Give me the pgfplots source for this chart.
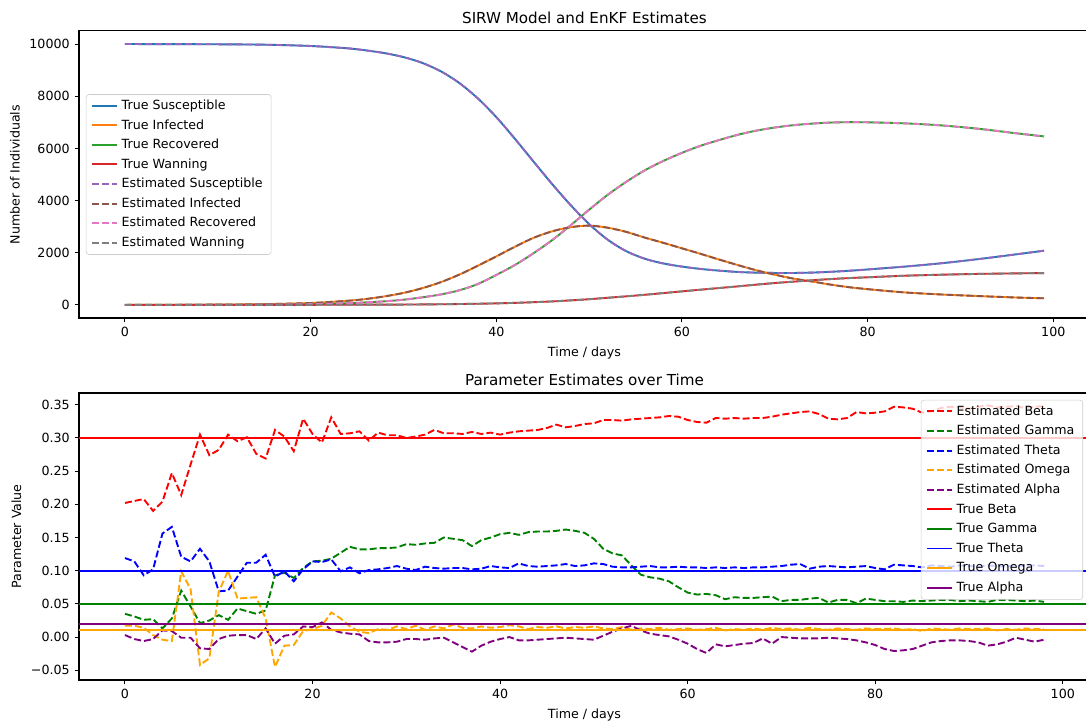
\documentclass[border=0pt]{standalone}
\usepackage{fontspec}
\setmainfont{DejaVu Sans}
\usepackage{pgfplots}
\usepackage{pgfplotstable}
\pgfplotsset{compat=1.18}
\definecolor{tabblue}{HTML}{1F77B4}
\definecolor{taborange}{HTML}{FF7F0E}
\definecolor{tabgreen}{HTML}{2CA02C}
\definecolor{tabred}{HTML}{D62728}
\definecolor{tabpurple}{HTML}{9467BD}
\definecolor{tabbrown}{HTML}{8C564B}
\definecolor{tabpink}{HTML}{E377C2}
\definecolor{tabgray}{HTML}{7F7F7F}
\definecolor{mplred}{HTML}{FF0000}
\definecolor{mplgreen}{HTML}{008000}
\definecolor{mplblue}{HTML}{0000FF}
\definecolor{mplorange}{HTML}{FFA500}
\definecolor{mplpurple}{HTML}{800080}

\pgfplotstableread{
t S I R W
0 10000 2 0 0
5 9997 5 2 0
10 9990 12 5 1
15 9975 30 12 2
20 9925 75 30 5
24 9835 160 65 8
26 9755 230 100 10
28 9650 330 140 12
30 9500 460 200 15
32 9280 640 290 20
34 8960 870 400 26
36 8510 1160 560 35
38 7920 1500 800 46
40 7200 1860 1150 60
42 6370 2230 1530 80
44 5500 2570 1980 105
46 4640 2820 2480 135
48 3830 2980 3050 175
50 3100 3040 3650 220
52 2500 2960 4220 275
54 2060 2800 4720 330
56 1770 2580 5160 390
58 1590 2380 5520 455
60 1470 2170 5830 520
62 1380 1960 6100 585
64 1315 1740 6320 648
66 1265 1530 6520 712
68 1238 1330 6680 778
70 1226 1160 6800 840
72 1225 1010 6890 893
74 1240 900 6950 945
76 1270 780 6990 992
78 1310 680 7005 1030
80 1360 605 7000 1060
84 1470 480 6960 1120
88 1600 400 6880 1160
92 1760 340 6750 1190
96 1940 285 6580 1210
99 2080 255 6460 1222
}\sirw

\pgfplotstableread{
t beta gamma theta omega alpha
0 0.202 0.035 0.119 0.017 0.003
1 0.205 0.031 0.114 0.017 -0.003
2 0.208 0.026 0.093 0.014 -0.006
3 0.190 0.027 0.102 0.003 -0.003
4 0.204 0.013 0.156 -0.004 0.010
5 0.247 0.028 0.166 -0.006 0.009
6 0.214 0.070 0.121 0.099 -0.001
7 0.260 0.046 0.114 0.072 -0.001
8 0.305 0.021 0.133 -0.042 -0.017
9 0.274 0.025 0.114 -0.032 -0.018
10 0.282 0.033 0.069 0.068 -0.003
11 0.305 0.026 0.070 0.100 0.002
12 0.295 0.043 0.091 0.058 0.003
13 0.301 0.039 0.112 0.059 0.003
14 0.276 0.035 0.112 0.060 -0.003
15 0.269 0.040 0.124 0.028 0.013
16 0.312 0.093 0.091 -0.045 -0.010
17 0.302 0.097 0.099 -0.013 0.002
18 0.280 0.089 0.084 -0.012 0.004
19 0.329 0.104 0.102 0.009 0.016
20 0.306 0.114 0.114 0.012 0.015
21 0.293 0.115 0.113 0.017 0.022
22 0.331 0.118 0.117 0.037 0.011
23 0.306 0.127 0.099 0.028 0.007
24 0.307 0.136 0.105 0.016 0.005
25 0.310 0.132 0.096 0.008 0.004
26 0.296 0.132 0.101 0.006 -0.006
27 0.308 0.134 0.102 0.012 -0.008
28 0.304 0.134 0.104 0.011 -0.008
29 0.304 0.135 0.107 0.016 -0.007
30 0.300 0.140 0.103 0.012 -0.003
31 0.302 0.139 0.101 0.017 -0.003
32 0.305 0.141 0.106 0.011 -0.004
33 0.312 0.142 0.104 0.016 -0.002
34 0.307 0.150 0.103 0.013 -0.001
35 0.307 0.148 0.104 0.019 -0.008
36 0.306 0.146 0.104 0.014 -0.015
37 0.309 0.137 0.102 0.013 -0.022
38 0.306 0.146 0.103 0.016 -0.013
39 0.308 0.150 0.107 0.014 -0.007
40 0.305 0.155 0.105 0.015 -0.003
41 0.308 0.157 0.104 0.018 0.000
42 0.310 0.154 0.111 0.016 -0.005
43 0.311 0.158 0.107 0.012 -0.005
44 0.312 0.159 0.106 0.015 -0.004
45 0.315 0.159 0.107 0.014 -0.003
46 0.320 0.160 0.108 0.016 -0.002
47 0.316 0.162 0.110 0.013 -0.001
48 0.318 0.160 0.107 0.015 -0.002
49 0.321 0.157 0.108 0.014 -0.003
50 0.322 0.148 0.111 0.016 -0.004
51 0.327 0.133 0.110 0.013 0.002
52 0.327 0.126 0.106 0.012 0.008
53 0.326 0.123 0.105 0.015 0.013
54 0.328 0.108 0.105 0.011 0.017
55 0.329 0.094 0.106 0.013 0.010
56 0.330 0.090 0.107 0.012 0.005
57 0.331 0.088 0.105 0.014 0.003
58 0.333 0.084 0.105 0.011 0.001
59 0.332 0.075 0.106 0.012 -0.004
60 0.327 0.067 0.105 0.013 -0.010
61 0.324 0.064 0.105 0.011 -0.018
62 0.323 0.065 0.104 0.012 -0.024
63 0.330 0.063 0.105 0.014 -0.011
64 0.329 0.057 0.104 0.010 -0.014
65 0.330 0.060 0.105 0.012 -0.012
66 0.329 0.059 0.104 0.011 -0.010
67 0.330 0.059 0.105 0.013 -0.009
68 0.330 0.060 0.105 0.011 -0.002
69 0.332 0.061 0.106 0.014 -0.010
70 0.335 0.054 0.107 0.012 0.000
71 0.337 0.056 0.109 0.013 -0.001
72 0.339 0.056 0.110 0.011 -0.002
73 0.340 0.058 0.103 0.014 -0.002
74 0.336 0.059 0.106 0.012 -0.002
75 0.329 0.052 0.107 0.011 -0.001
76 0.328 0.056 0.106 0.013 -0.002
77 0.330 0.056 0.105 0.012 -0.003
78 0.339 0.051 0.106 0.011 -0.005
79 0.337 0.058 0.107 0.013 -0.008
80 0.338 0.056 0.104 0.012 -0.012
81 0.340 0.054 0.102 0.012 -0.018
82 0.347 0.054 0.109 0.013 -0.021
83 0.346 0.053 0.108 0.011 -0.020
84 0.344 0.055 0.107 0.012 -0.018
85 0.338 0.054 0.105 0.009 -0.013
86 0.340 0.055 0.108 0.013 -0.008
87 0.345 0.056 0.107 0.012 -0.006
88 0.347 0.056 0.106 0.011 -0.005
89 0.346 0.054 0.108 0.013 -0.005
90 0.344 0.055 0.107 0.012 -0.006
91 0.347 0.054 0.106 0.012 -0.008
92 0.349 0.053 0.108 0.013 -0.013
93 0.346 0.056 0.107 0.010 -0.011
94 0.347 0.056 0.106 0.012 -0.007
95 0.348 0.055 0.108 0.011 -0.001
96 0.345 0.054 0.107 0.013 -0.004
97 0.347 0.055 0.108 0.012 -0.007
98 0.348 0.053 0.107 0.012 -0.004
}\params

\pgfplotsset{
  mplaxis/.style={
    scale only axis,
    width=727.9pt, height=206.64pt,
    anchor=south west,
    axis line style={black, line width=0.73pt},
    tick align=outside,
    tick pos=left,
    major tick length=3.2pt,
    tick style={black, line width=0.73pt},
    /pgf/number format/assume math mode=true,
    tick label style={font=\fontsize{9.1}{11}\selectfont},
    label style={font=\fontsize{9.1}{11}\selectfont},
    title style={font=\fontsize{10.9}{13}\selectfont, at={(0.5,1)}, anchor=base, yshift=-0.5pt},
    xtick={0,20,40,60,80,100},
    legend cell align=left,
    legend image code/.code={\draw[##1] (0pt,0.2pt) -- (18.2pt,0.2pt);},
    legend style={draw=black!20, rounded corners=2pt, fill=white, fill opacity=0.8, text opacity=1,
      font=\fontsize{9.1}{11}\selectfont, row sep=5.6pt, inner xsep=3.5pt, inner ysep=4pt,
      nodes={text height=6.8pt, text depth=1.7pt, inner ysep=0pt, inner xsep=2.5pt}},
  },
  tru/.style={line width=1.36pt, solid},
  est/.style={line width=1.36pt, dash pattern=on 5.05pt off 2.18pt},
}

\begin{document}
\begin{tikzpicture}
\useasboundingbox (0pt,0pt) rectangle (781.92pt,519.12pt);
\clip (0pt,0pt) rectangle (781.92pt,519.12pt);

\begin{axis}[mplaxis,
  at={(56.88pt,290.16pt)},
  xmin=-4.95, xmax=103.95, ymin=-500, ymax=10500,
  ytick={0,2000,4000,6000,8000,10000},
  scaled y ticks=false,
  /pgf/number format/1000 sep={},
  title={SIRW Model and EnKF Estimates},
  xlabel={Time / days}, ylabel={Number of Individuals},
  legend style={at={(0,0.5)}, anchor=west, xshift=5pt},
]
\addplot[tru, tabblue, smooth] table[x=t, y=S] {\sirw};
\addlegendentry{True Susceptible}
\addplot[tru, taborange, smooth] table[x=t, y=I] {\sirw};
\addlegendentry{True Infected}
\addplot[tru, tabgreen, smooth] table[x=t, y=R] {\sirw};
\addlegendentry{True Recovered}
\addplot[tru, tabred, smooth] table[x=t, y=W] {\sirw};
\addlegendentry{True Wanning}
\addplot[est, tabpurple, smooth] table[x=t, y=S] {\sirw};
\addlegendentry{Estimated Susceptible}
\addplot[est, tabbrown, smooth] table[x=t, y=I] {\sirw};
\addlegendentry{Estimated Infected}
\addplot[est, tabpink, smooth] table[x=t, y=R] {\sirw};
\addlegendentry{Estimated Recovered}
\addplot[est, tabgray, smooth] table[x=t, y=W] {\sirw};
\addlegendentry{Estimated Wanning}
\end{axis}

\begin{axis}[mplaxis,
  at={(56.88pt,29.52pt)},
  xmin=-4.9, xmax=102.9, ymin=-0.0647, ymax=0.3677,
  ytick={-0.05,0,0.05,0.1,0.15,0.2,0.25,0.3,0.35},
  yticklabels={−0.05,0.00,0.05,0.10,0.15,0.20,0.25,0.30,0.35},
  title={Parameter Estimates over Time},
  xlabel={Time / days}, ylabel={Parameter Value},
  legend style={at={(1,1)}, anchor=north east, xshift=-5pt, yshift=-5pt},
]
\addplot[est, mplred] table[x=t, y=beta] {\params};
\addlegendentry{Estimated Beta}
\addplot[est, mplgreen] table[x=t, y=gamma] {\params};
\addlegendentry{Estimated Gamma}
\addplot[est, mplblue] table[x=t, y=theta] {\params};
\addlegendentry{Estimated Theta}
\addplot[est, mplorange] table[x=t, y=omega] {\params};
\addlegendentry{Estimated Omega}
\addplot[est, mplpurple] table[x=t, y=alpha] {\params};
\addlegendentry{Estimated Alpha}
\addplot[tru, mplred] coordinates {(-10,0.3) (110,0.3)};
\addlegendentry{True Beta}
\addplot[tru, mplgreen] coordinates {(-10,0.05) (110,0.05)};
\addlegendentry{True Gamma}
\addplot[tru, mplblue] coordinates {(-10,0.1) (110,0.1)};
\addlegendentry{True Theta}
\addplot[tru, mplorange] coordinates {(-10,0.01) (110,0.01)};
\addlegendentry{True Omega}
\addplot[tru, mplpurple] coordinates {(-10,0.02) (110,0.02)};
\addlegendentry{True Alpha}
\end{axis}
\end{tikzpicture}
\end{document}
